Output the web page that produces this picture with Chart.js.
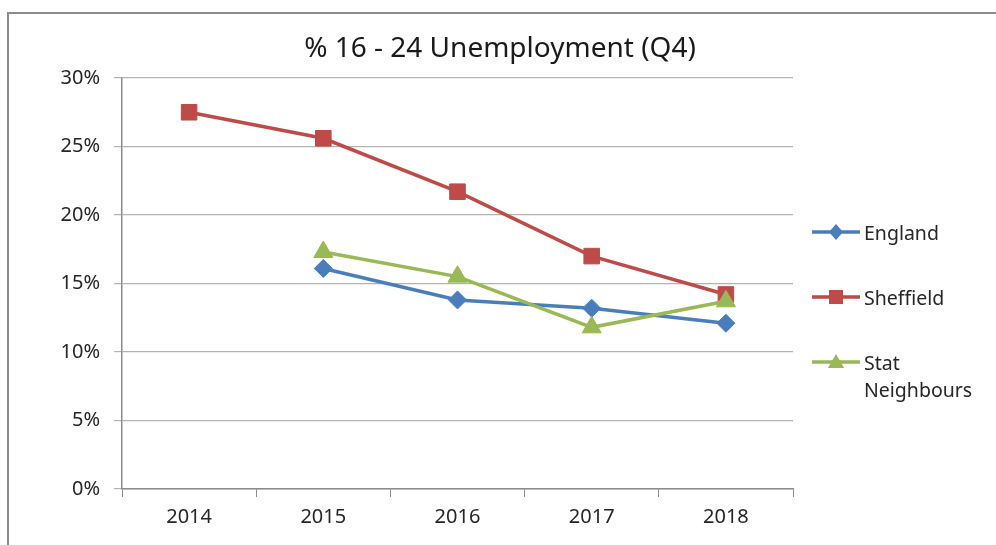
<!DOCTYPE html>
<html>
<head>
<meta charset="utf-8">
<script src="https://cdn.jsdelivr.net/npm/chart.js@4/dist/chart.umd.min.js"></script>
<style>
  html, body { margin: 0; padding: 0; background: #fff; overflow: hidden; }
  #wrap { position: relative; width: 996px; height: 545px; }
  #frame { position: absolute; left: 7px; top: 12px; width: 1100px; height: 700px;
           border-left: 2px solid #8c8c8c; border-top: 2px solid #8c8c8c; }
  #chart { position: absolute; left: 0; top: 0; }
  #title { position: absolute; left: 0; width: 1000px; top: 32px; text-align: center;
           font-family: "Noto Sans", sans-serif; font-size: 28px; line-height: 28px; color: #1a1a1a;
           white-space: nowrap; }
  #legend { position: absolute; left: 812px; top: 0; font-family: "Noto Sans", sans-serif;
            font-size: 19.5px; color: #262626; }
  .item { position: absolute; left: 0; white-space: nowrap; }
  .item svg { position: absolute; left: 0; }
  .item span { position: absolute; left: 52px; line-height: 27px; }
</style>
</head>
<body>
<div id="wrap">
  <div id="frame"></div>
  <canvas id="chart" width="996" height="545"></canvas>
  <div id="title">% 16 - 24 Unemployment (Q4)</div>
  <div id="legend"></div>
</div>
<script>
const years = ["2014", "2015", "2016", "2017", "2018"];
const england = [null, 16.1, 13.8, 13.2, 12.1];
const sheffield = [27.5, 25.6, 21.7, 17.0, 14.2];
const statNeighbours = [null, 17.3, 15.5, 11.8, 13.7];
const yTicks = [0, 5, 10, 15, 20, 25, 30];

const blue = "#4A7EBB", red = "#BE4B48", green = "#98B954";

drawLine();
drawLegend();

function drawLine() {
  const data = {
    labels: years,
    datasets: [
      { label: "England", data: england, borderColor: blue, backgroundColor: blue,
        pointStyle: "rectRot", pointRadius: 9, order: 2 },
      { label: "Sheffield", data: sheffield, borderColor: red, backgroundColor: red,
        pointStyle: "rect", pointRadius: 11, order: 1 },
      { label: "Stat Neighbours", data: statNeighbours, borderColor: green, backgroundColor: green,
        pointStyle: "triangle", pointRadius: 11, order: 0 }
    ]
  };
  data.datasets.forEach(d => {
    d.borderWidth = 3.5;
    d.pointBorderWidth = 1;
    d.pointHoverRadius = d.pointRadius;
    d.tension = 0;
  });

  const config = {
    type: "line",
    data: data,
    options: {
      responsive: false,
      animation: false,
      layout: { padding: { left: 0, right: 203, top: 78, bottom: 0 } },
      plugins: {
        legend: { display: false },
        tooltip: { enabled: false },
        title: { display: false }
      },
      scales: {
        x: {
          offset: true,
          grid: { display: true, drawOnChartArea: false, drawTicks: true, tickLength: 8, color: "#8c8c8c", offset: true },
          border: { display: true, color: "#8c8c8c", width: 1.5 },
          ticks: { color: "#262626", font: { family: "Noto Sans", size: 20 }, padding: 8, maxRotation: 0 },
          afterFit: s => { s.height = 56; }
        },
        y: {
          min: 0, max: 30,
          afterBuildTicks: s => { s.ticks = yTicks.map(v => ({ value: v })); },
          grid: { color: "#b3b3b3", lineWidth: 1.2, tickLength: 8 },
          border: { display: true, color: "#8c8c8c", width: 1.5 },
          ticks: { color: "#262626", font: { family: "Noto Sans", size: 20 }, padding: 14,
                   callback: v => v + "%" },
          afterFit: s => { s.width = 122; }
        }
      }
    }
  };

  new Chart(document.getElementById("chart"), config);
}

function drawLegend() {
  const items = [
    { text: ["England"], color: blue, shape: "diamond", y: 232 },
    { text: ["Sheffield"], color: red, shape: "square", y: 297 },
    { text: ["Stat", "Neighbours"], color: green, shape: "triangle", y: 362 }
  ];
  const legend = document.getElementById("legend");
  items.forEach(it => {
    const div = document.createElement("div");
    div.className = "item";
    div.style.top = (it.y - 13) + "px";
    let marker = "";
    if (it.shape === "diamond") marker = `<polygon points="24,5 31,13 24,21 17,13" fill="${it.color}"/>`;
    if (it.shape === "square") marker = `<rect x="17" y="6" width="14" height="14" fill="${it.color}"/>`;
    if (it.shape === "triangle") marker = `<polygon points="24,5 32,19 16,19" fill="${it.color}"/>`;
    div.innerHTML = `<svg width="50" height="26" viewBox="0 0 50 26">
        <line x1="0" y1="13" x2="48" y2="13" stroke="${it.color}" stroke-width="3.5"/>${marker}</svg>` +
      `<span>${it.text.join("<br>")}</span>`;
    legend.appendChild(div);
  });
}
</script>
</body>
</html>
